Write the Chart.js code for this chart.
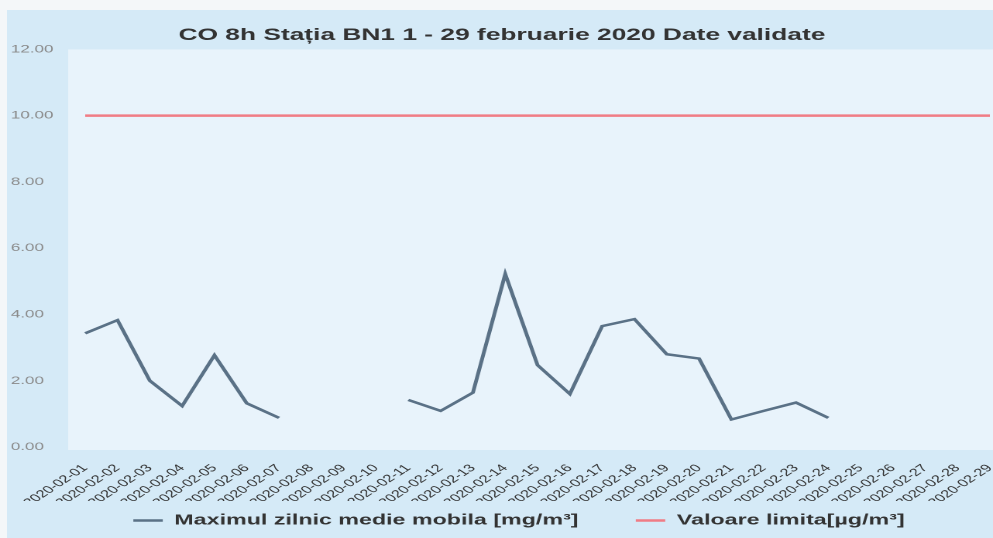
<!DOCTYPE html>
<html>
<head>
<meta charset="utf-8">
<script src="https://cdn.jsdelivr.net/npm/chart.js@4"></script>
<style>
  html, body { margin: 0; padding: 0; background: #f4f7f9; overflow: hidden; }
  /* the scanned original is stretched horizontally, so draw narrow and widen */
  #wrap {
    position: absolute; left: 0; top: 0;
    width: 641px; height: 538px;
    transform-origin: 0 0;
    transform: scaleX(1.5491);
  }
</style>
</head>
<body>
<div id="wrap"><canvas id="chart"></canvas></div>
<script>
const days = [
  '2020-02-01', '2020-02-02', '2020-02-03', '2020-02-04', '2020-02-05',
  '2020-02-06', '2020-02-07', '2020-02-08', '2020-02-09', '2020-02-10',
  '2020-02-11', '2020-02-12', '2020-02-13', '2020-02-14', '2020-02-15',
  '2020-02-16', '2020-02-17', '2020-02-18', '2020-02-19', '2020-02-20',
  '2020-02-21', '2020-02-22', '2020-02-23', '2020-02-24', '2020-02-25',
  '2020-02-26', '2020-02-27', '2020-02-28', '2020-02-29'
];

const maxDaily = [
  3.43, 3.83, 2.00, 1.24, 2.77, 1.32, 0.88, null, null, null,
  1.42, 1.09, 1.64, 5.22, 2.47, 1.60, 3.65, 3.86, 2.80, 2.67,
  0.83, 1.09, 1.34, 0.88, null, null, null, null, null
];

const limitValue = days.map(() => 10);

const yTicks = [0, 2, 4, 6, 8, 10, 12];

const FONT = "'Liberation Sans', Arial, sans-serif";

const backdrop = {
  id: 'backdrop',
  beforeDraw(chart) {
    const { ctx, chartArea: a, width, height } = chart;
    ctx.save();
    ctx.fillStyle = '#d5eaf7';
    ctx.fillRect(4.5, 10, width - 4.5, height - 10);
    ctx.fillStyle = '#e8f3fb';
    ctx.fillRect(a.left - 11, a.top, width - a.left + 11, a.bottom - a.top + 3);
    ctx.restore();
  }
};

// the original legend sits a little right of centre
const legendNudge = {
  id: 'legendNudge',
  afterLayout(chart) {
    chart.legend.left += 11;
    chart.legend.right += 11;
  }
};

new Chart(document.getElementById('chart'), {
  type: 'line',
  data: {
    labels: days,
    datasets: [
      {
        // trailing spaces widen the gap between the two legend entries
        label: 'Maximul zilnic medie mobila [mg/m³]      ',
        data: maxDaily,
        borderColor: '#5a7186',
        backgroundColor: '#5a7186',
        borderWidth: 2.5,
        pointRadius: 0,
        tension: 0,
        spanGaps: false
      },
      {
        label: 'Valoare limita[µg/m³]',
        data: limitValue,
        borderColor: '#f07c85',
        backgroundColor: '#f07c85',
        borderWidth: 2.5,
        pointRadius: 0,
        tension: 0
      }
    ]
  },
  options: {
    responsive: true,
    maintainAspectRatio: false,
    devicePixelRatio: 2,
    animation: false,
    layout: { padding: { left: 7, right: 0, top: 10, bottom: 0 } },
    plugins: {
      title: {
        display: true,
        text: 'CO 8h Stația BN1 1 - 29 februarie 2020 Date validate',
        color: '#333',
        font: { family: FONT, size: 17, weight: 'bold' },
        padding: { top: 15, bottom: 4 }
      },
      legend: {
        position: 'bottom',
        labels: {
          usePointStyle: true,
          pointStyle: 'line',
          pointStyleWidth: 19,
          padding: 12,
          color: '#333',
          font: { family: FONT, size: 15, weight: 'bold' }
        }
      },
      tooltip: { enabled: false }
    },
    scales: {
      x: {
        grid: { display: false },
        border: { display: false },
        afterFit: s => { s.height = 54; s.paddingRight = 2; },
        ticks: {
          autoSkip: false,
          minRotation: 45,
          maxRotation: 45,
          padding: 7,
          color: '#333',
          font: { family: FONT, size: 10.5 }
        }
      },
      y: {
        min: 0,
        max: 12,
        grid: { display: false },
        border: { display: false },
        afterFit: s => { s.width = 48; },
        afterBuildTicks: s => { s.ticks = yTicks.map(v => ({ value: v })); },
        ticks: {
          crossAlign: 'far',
          color: '#8a8a8a',
          font: { family: FONT, size: 11 },
          callback: v => v.toFixed(2)
        }
      }
    }
  },
  plugins: [backdrop, legendNudge]
});
</script>
</body>
</html>
